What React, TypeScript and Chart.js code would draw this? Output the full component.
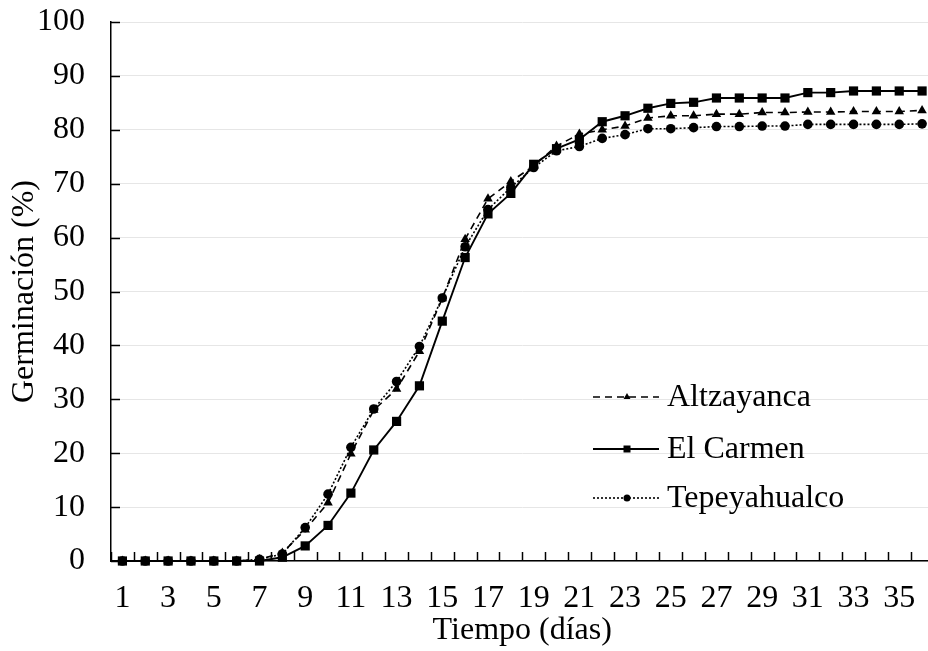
import React, { useEffect, useRef } from "react";
import { Chart, registerables } from "chart.js";

Chart.register(...registerables);

const days = [
  "1", "2", "3", "4", "5", "6", "7", "8", "9", "10", "11", "12",
  "13", "14", "15", "16", "17", "18", "19", "20", "21", "22", "23", "24",
  "25", "26", "27", "28", "29", "30", "31", "32", "33", "34", "35", "36",
];

const altzayanca = [
  0, 0, 0, 0, 0, 0, 0.3, 1.5, 5.8, 10.8, 19.9, 28.0,
  31.9, 38.9, 48.7, 59.7, 67.2, 70.4, 73.3, 77.0, 79.2, 80.0, 80.7, 82.2,
  82.6, 82.6, 82.9, 82.9, 83.2, 83.2, 83.3, 83.3, 83.4, 83.4, 83.4, 83.6,
];

const elCarmen = [
  0, 0, 0, 0, 0, 0, 0, 0.7, 2.8, 6.6, 12.6, 20.6,
  25.9, 32.5, 44.5, 56.3, 64.4, 68.2, 73.6, 76.5, 78.2, 81.5, 82.6, 84.0,
  84.9, 85.1, 85.9, 85.9, 85.9, 85.9, 86.9, 86.9, 87.2, 87.2, 87.2, 87.2,
];

const tepeyahualco = [
  0, 0, 0, 0, 0, 0, 0.3, 1.3, 6.2, 12.4, 21.1, 28.2,
  33.3, 39.8, 48.8, 58.3, 65.2, 69.3, 73.0, 76.1, 76.9, 78.4, 79.1, 80.2,
  80.2, 80.4, 80.6, 80.6, 80.7, 80.7, 81.0, 81.0, 81.0, 81.0, 81.0, 81.1,
];

const seriesNames = ["Altzayanca", "El Carmen", "Tepeyahualco"];
const yTicks = [0, 10, 20, 30, 40, 50, 60, 70, 80, 90, 100];

const FONT = "'Liberation Serif', 'Times New Roman', serif";
const FS = 32;

const styles = [
  { dash: [7, 5], width: 1.6, point: "triangle", radius: 5.5 },
  { dash: [], width: 1.9, point: "rect", radius: 6.5 },
  { dash: [2, 2], width: 1.6, point: "circle", radius: 4.8 },
];

const tickPlugin = {
  id: "insideTicks",
  afterDraw(chart: any) {
    const { ctx, chartArea, scales } = chart;
    const y = scales.y;
    ctx.save();
    ctx.strokeStyle = "#000";
    ctx.lineWidth = 1.5;
    const n = days.length;
    const step = (chartArea.right - chartArea.left) / n;
    for (let i = 0; i <= n; i++) {
      const px = Math.round(chartArea.left + i * step) + 0.5;
      ctx.beginPath();
      ctx.moveTo(px, chartArea.bottom - 9);
      ctx.lineTo(px, chartArea.bottom);
      ctx.stroke();
    }
    for (const v of yTicks) {
      const py = Math.round(y.getPixelForValue(v)) + 0.5;
      ctx.beginPath();
      ctx.moveTo(chartArea.left, py);
      ctx.lineTo(chartArea.left + 9, py);
      ctx.stroke();
    }
    ctx.restore();
  },
};

const legendPlugin = {
  id: "customLegend",
  afterDraw(chart: any) {
    const { ctx } = chart;
    const rows = [397, 449, 498];
    ctx.save();
    rows.forEach((ry, i) => {
      const st = styles[i];
      ctx.strokeStyle = "#000";
      ctx.lineWidth = st.width;
      ctx.setLineDash(st.dash);
      ctx.beginPath();
      ctx.moveTo(593, ry);
      ctx.lineTo(659, ry);
      ctx.stroke();
      ctx.setLineDash([]);
      ctx.fillStyle = "#000";
      const cx = 627;
      ctx.beginPath();
      if (st.point === "triangle") {
        const r = 4;
        ctx.moveTo(cx, ry - r);
        ctx.lineTo(cx + r * 0.866, ry + r * 0.5);
        ctx.lineTo(cx - r * 0.866, ry + r * 0.5);
        ctx.closePath();
      } else if (st.point === "rect") {
        ctx.rect(cx - 3.5, ry - 3.5, 7, 7);
      } else {
        ctx.arc(cx, ry, 3.5, 0, Math.PI * 2);
      }
      ctx.fill();
      ctx.font = `${FS}px ${FONT}`;
      ctx.textBaseline = "alphabetic";
      ctx.textAlign = "left";
      ctx.fillText(seriesNames[i], 667, ry + 9);
    });
    ctx.restore();
  },
};

export default function App() {
  const ref = useRef<HTMLCanvasElement | null>(null);

  useEffect(() => {
    if (!ref.current) return;
    Chart.defaults.font.family = FONT;
    Chart.defaults.color = "#000";
    const data = [altzayanca, elCarmen, tepeyahualco];
    const chart = new Chart(ref.current, {
      type: "line",
      data: {
        labels: days,
        datasets: data.map((d, i) => ({
          label: seriesNames[i],
          data: d,
          borderColor: "#000",
          backgroundColor: "#000",
          borderWidth: styles[i].width,
          borderDash: styles[i].dash,
          pointStyle: styles[i].point as any,
          pointRadius: styles[i].radius,
          pointBorderWidth: 0,
          pointBackgroundColor: "#000",
          pointBorderColor: "#000",
          tension: 0,
          fill: false,
          clip: false as any,
        })),
      },
      options: {
        responsive: false,
        animation: false,
        events: [],
        layout: { padding: { top: 22, right: 6, left: 0, bottom: 0 } },
        plugins: {
          legend: { display: false },
          tooltip: { enabled: false },
        },
        scales: {
          x: {
            type: "category",
            offset: true,
            grid: { display: false, drawTicks: false },
            border: { display: true, color: "#000", width: 1.5 },
            ticks: {
              autoSkip: false,
              maxRotation: 0,
              minRotation: 0,
              padding: 18,
              font: { size: FS, family: FONT },
              color: "#000",
              callback: (_v: any, i: number) => (i % 2 === 0 ? days[i] : ""),
            },
            title: {
              display: true,
              text: "Tiempo (días)",
              font: { size: FS, family: FONT },
              color: "#000",
              padding: { top: 0, bottom: 1 },
            },
            afterFit: (s: any) => {
              s.height = 90;
              s.paddingLeft = 0;
              s.paddingRight = 0;
            },
          },
          y: {
            min: 0,
            max: 100,
            grid: { color: "#e6e6e6", lineWidth: 1, drawTicks: false },
            border: { display: true, color: "#000", width: 1.5 },
            ticks: {
              stepSize: 10,
              padding: 26,
              font: { size: FS, family: FONT },
              color: "#000",
            },
            title: {
              display: true,
              text: "Germinación (%)",
              font: { size: FS, family: FONT },
              color: "#000",
              padding: { top: 5, bottom: 0 },
            },
            afterFit: (s: any) => {
              s.width = 111;
              s.paddingTop = 0;
              s.paddingBottom = 0;
            },
          },
        },
      },
      plugins: [tickPlugin, legendPlugin],
    });
    return () => chart.destroy();
  }, []);

  return (
    <div
      style={{
        position: "fixed",
        left: 0,
        top: 0,
        width: 940,
        height: 651,
        background: "#fff",
      }}
    >
      <canvas ref={ref} width={940} height={651} style={{ display: "block" }} />
    </div>
  );
}
